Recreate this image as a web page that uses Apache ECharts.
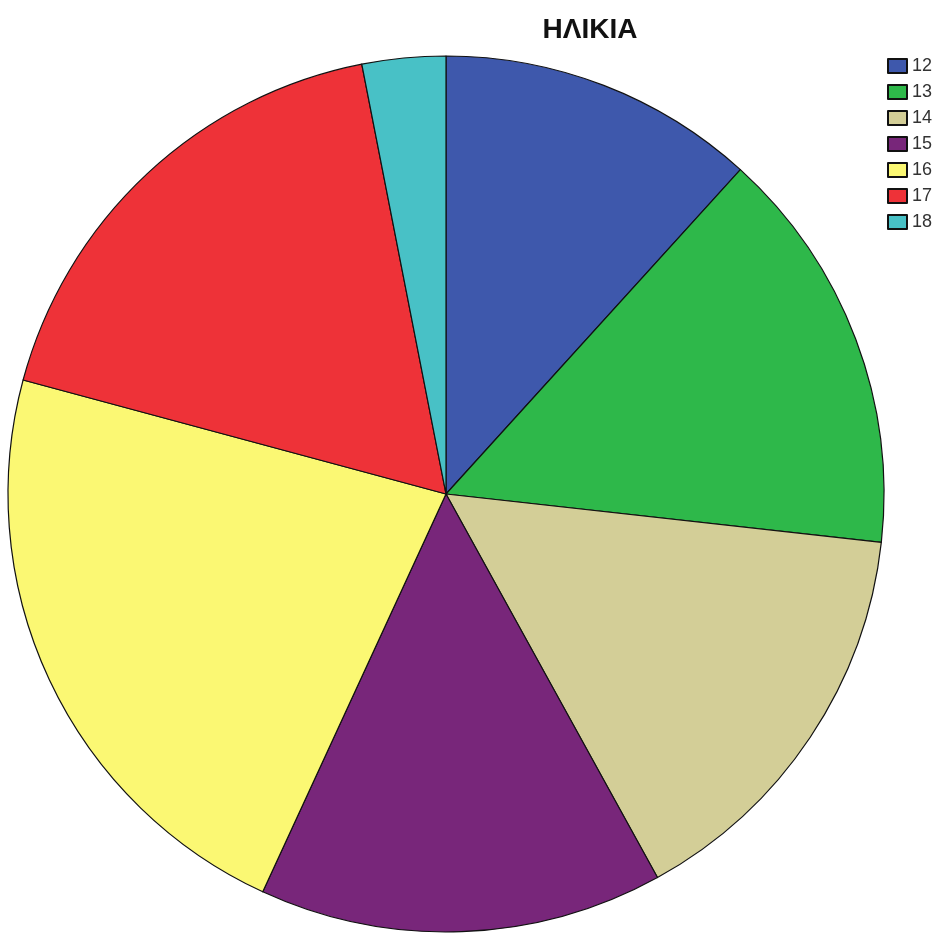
<!DOCTYPE html>
<html>
<head>
<meta charset="utf-8">
<script src="https://cdn.jsdelivr.net/npm/echarts@6/dist/echarts.min.js"></script>
<style>html,body{margin:0;padding:0;background:#fff;}#c{width:938px;height:935px;}</style>
</head>
<body>
<div id="c"></div>
<script>
const categories = ['12', '13', '14', '15', '16', '17', '18'];
const values = [11.73, 15.03, 15.22, 14.89, 22.32, 17.73, 3.08];
const colors = ['#3E58AC', '#2EB84A', '#D3CE97', '#78267A', '#FBF873', '#EE3238', '#48C1C6'];
const titleText = 'ΗΛΙΚΙΑ';

const chart = echarts.init(document.getElementById('c'));
chart.setOption({
  animation: false,
  backgroundColor: '#ffffff',
  title: {
    text: titleText,
    left: 590, top: 16,
    textAlign: 'center',
    padding: 0,
    textStyle: { fontFamily: 'Liberation Sans, Arial, sans-serif', fontSize: 28, fontWeight: 'bold', color: '#111' }
  },
  legend: {
    orient: 'vertical',
    left: 887, top: 56,
    padding: 0,
    itemWidth: 19, itemHeight: 14, itemGap: 6,
    icon: 'rect',
    textStyle: { fontFamily: 'Liberation Sans, Arial, sans-serif', fontSize: 18, lineHeight: 14, color: '#333', padding: [6,0,0,0] },
    data: categories
  },
  series: [{
    type: 'pie',
    center: [446, 494],
    radius: 438,
    startAngle: 90,
    clockwise: true,
    label: { show: false },
    labelLine: { show: false },
    emphasis: { disabled: true },
    itemStyle: { borderColor: '#111', borderWidth: 1.2 },
    data: categories.map((c, i) => ({ name: c, value: values[i], itemStyle: { color: colors[i] } }))
  }]
});
</script>
</body>
</html>
